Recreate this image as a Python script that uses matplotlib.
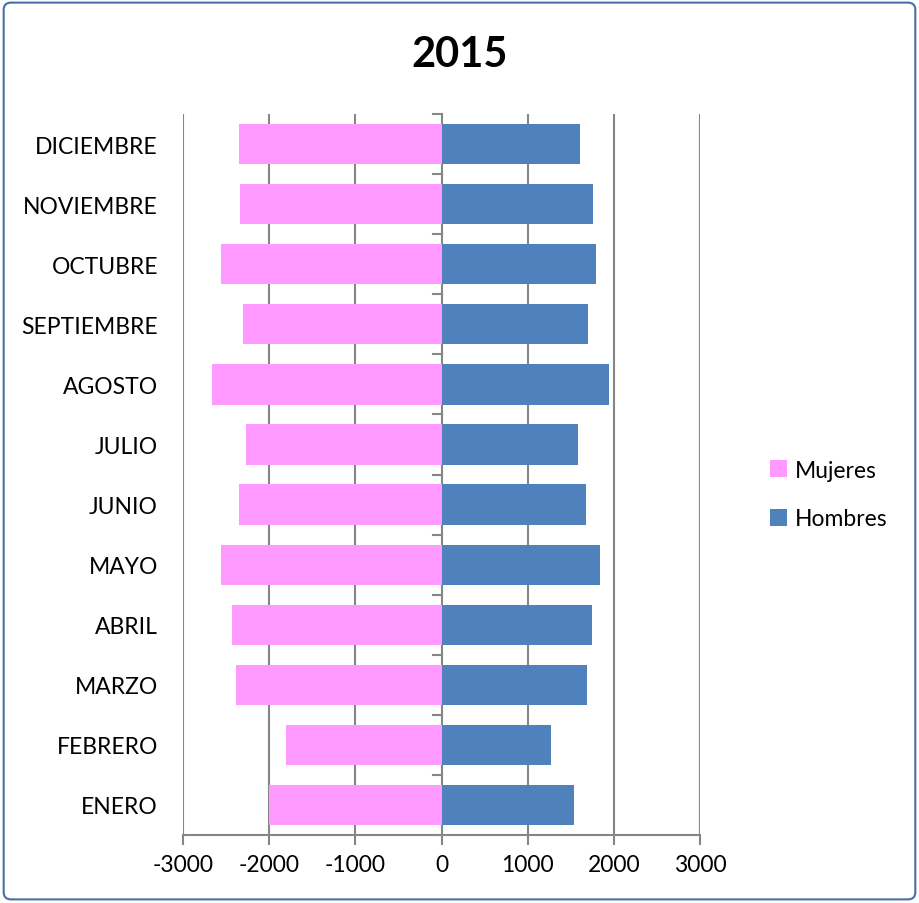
import matplotlib.pyplot as plt
from matplotlib.patches import FancyBboxPatch

meses = ["ENERO", "FEBRERO", "MARZO", "ABRIL", "MAYO", "JUNIO",
         "JULIO", "AGOSTO", "SEPTIEMBRE", "OCTUBRE", "NOVIEMBRE", "DICIEMBRE"]
mujeres = [-1996, -1804, -2380, -2430, -2558, -2352,
           -2268, -2659, -2306, -2561, -2337, -2346]
hombres = [1541, 1274, 1684, 1746, 1835, 1673,
           1587, 1943, 1700, 1796, 1754, 1610]
ticks_x = [-3000, -2000, -1000, 0, 1000, 2000, 3000]

plt.rcParams["font.family"] = ["Lato", "DejaVu Sans"]

fig = plt.figure(figsize=(9.19, 9.04), dpi=100)
ax = fig.add_axes([0.199, 0.0752, 0.563, 0.7976])

grid_color = "#868686"
pos = list(range(len(meses)))

ax.barh(pos, mujeres, height=0.67, color="#FF99FF", label="Mujeres", zorder=3)
ax.barh(pos, hombres, height=0.67, color="#4F81BD", label="Hombres", zorder=3)

ax.set_xlim(-3000, 3000)
ax.set_ylim(-0.5, len(meses) - 0.5)
ax.set_xticks(ticks_x)
ax.set_xticklabels([str(t) for t in ticks_x])
ax.set_yticks(pos)
ax.set_yticklabels(meses)

for t in ticks_x:
    ax.axvline(t, color=grid_color, lw=1.5, zorder=1)

# tick marks on the vertical axis (at 0), left side only, at category boundaries
for i in range(len(meses) + 1):
    ax.plot([-95, 0], [i - 0.5, i - 0.5], color=grid_color, lw=1.5, zorder=2,
            clip_on=False)

for s in ["top", "right", "left"]:
    ax.spines[s].set_visible(False)
ax.spines["bottom"].set_color(grid_color)
ax.spines["bottom"].set_linewidth(1.5)

ax.tick_params(axis="y", length=0, pad=18, labelsize=16.5)
ax.tick_params(axis="x", direction="out", length=7, width=1.5, color=grid_color,
               pad=7, labelsize=16.5)

handles, labels = ax.get_legend_handles_labels()
fig.legend(handles, labels, loc="center left", bbox_to_anchor=(0.815, 0.452),
           frameon=False, fontsize=16.5, handlelength=0.75, handleheight=0.75,
           handletextpad=0.35, labelspacing=1.2)

fig.text(0.5, 0.939, "2015", ha="center", va="center", fontsize=30,
         fontweight="bold")

border = FancyBboxPatch((0.004, 0.004), 0.992, 0.992, boxstyle="round,pad=0,rounding_size=0.008",
                        transform=fig.transFigure, fill=False, edgecolor="#4A6FA5", lw=1.5)
fig.patches.append(border)

fig.savefig("out.png", dpi=100, facecolor="white")
